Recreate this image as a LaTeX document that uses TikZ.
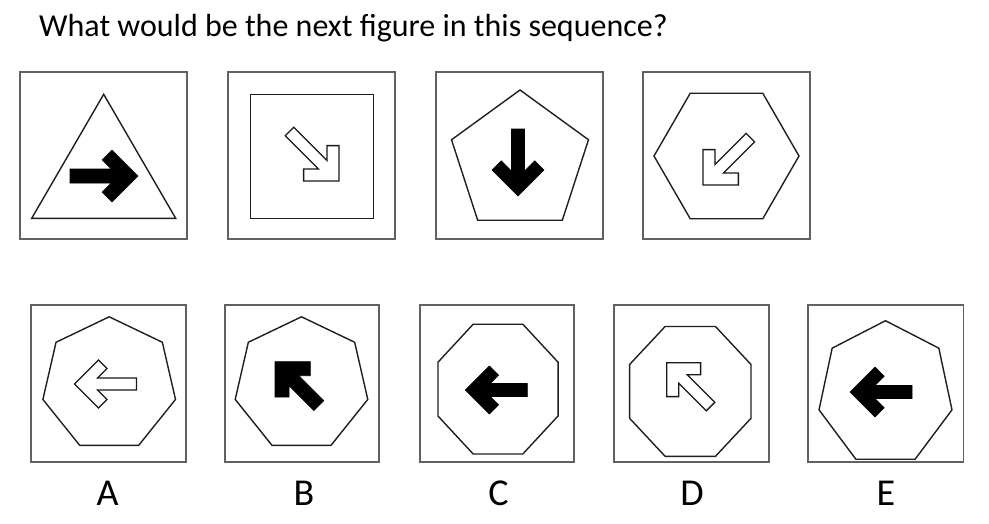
\documentclass[tikz,border=0pt]{standalone}
\usepackage{fontspec}
\setmainfont{Carlito}
% chevron arrow: #1 style, #2 tip, #3 angle, #4 length, #5 thickness, #6 arm reach
\newcommand\qarrow[6]{%
  \path[#1, shift={(#2)}, rotate=#3]
    (0,0) -- (-#6,#6) -- ({-#6-0.7071*#5},{#6-0.7071*#5})
    -- ({-1.4142*#5-0.5*#5},{0.5*#5}) -- (-#4,{0.5*#5}) -- (-#4,{-0.5*#5})
    -- ({-1.4142*#5-0.5*#5},{-0.5*#5}) -- ({-#6-0.7071*#5},{-#6+0.7071*#5})
    -- (-#6,-#6) -- cycle;}
% polygon: #1 cx, #2 cy, #3 Rx, #4 Ry, #5 n, #6 start angle
\newcommand\qpoly[6]{%
  \pgfmathtruncatemacro\qnm{#5-1}%
  \draw[figline] ({#1+#3*cos(#6)},{#2+#4*sin(#6)})
    \foreach \k in {1,...,\qnm}{ -- ({#1+#3*cos(#6+\k*360/#5)},{#2+#4*sin(#6+\k*360/#5)}) } -- cycle;}
\begin{document}
\begin{tikzpicture}[x=1pt,y=-1pt,
  frame/.style={draw=black!62, line width=1.8pt},
  figline/.style={draw=black!88, line width=1.4pt, line join=miter},
  solidarrow/.style={fill=black, draw=black, line width=0.6pt, line join=miter},
  hollowarrow/.style={fill=white, draw=black!90, line width=1.3pt, line join=miter},
  lab/.style={font=\fontsize{38}{40}\selectfont, anchor=base, inner sep=0pt}]
\useasboundingbox (0,0) rectangle (989,523);
\fill[white] (0,0) rectangle (989,523);

\node[anchor=base west, font=\fontsize{32}{38}\selectfont, inner sep=0pt] (title) at (39,36)
  {What would be the next figure in this sequence?};

% top row frames
\draw[frame] (20,72) rectangle (187,239);
\draw[frame] (228,72) rectangle (395,239);
\draw[frame] (436,72) rectangle (603,239);
\draw[frame] (643,72) rectangle (810,239);

% top row shapes
\draw[figline] (103.7,94.3) -- (31.7,218.3) -- (175.7,218.3) -- cycle;
\draw[figline] (250.3,94.3) rectangle (373.3,218.3);
\qpoly{520}{162}{72}{72}{5}{-90}
\qpoly{726.5}{156}{72.5}{72.5}{6}{0}

% top row arrows
\qarrow{solidarrow}{138,176}{0}{68}{14}{26}
\qarrow{hollowarrow}{339,181}{-45}{70}{12}{25}
\qarrow{solidarrow}{518,196}{-90}{67}{13}{26}
\qarrow{hollowarrow}{703,185}{-135}{67}{12}{25}

% bottom row frames
\draw[frame] (31,305) rectangle (186,462);
\draw[frame] (225,305) rectangle (379,462);
\draw[frame] (420,305) rectangle (574,462);
\draw[frame] (614,305) rectangle (769,462);
\draw[frame] (808,305) rectangle (963.5,462);

% bottom row shapes
\qpoly{109.2}{384.4}{68}{67.6}{7}{-90}
\qpoly{301.5}{384.4}{68}{67.6}{7}{-90}
\qpoly{498}{389.1}{65}{70.2}{8}{22.5}
\qpoly{690.3}{391.4}{65.7}{70.3}{8}{22.5}
\qpoly{885.5}{393.6}{68.2}{72.9}{7}{-90}

% bottom row arrows
\qarrow{hollowarrow}{74.5,384}{180}{62}{12}{24}
\qarrow{solidarrow}{275,361.7}{135}{62}{14}{25}
\qarrow{solidarrow}{465.4,390}{180}{62}{13}{24}
\qarrow{hollowarrow}{666.7,362.7}{135}{62}{12}{24}
\qarrow{solidarrow}{850,392}{180}{62}{13}{25}

% labels
\node[lab] (labA) at (107.7,505) {A};
\node[lab] (labB) at (304,505) {B};
\node[lab] (labC) at (498.5,505) {C};
\node[lab] (labD) at (692,505) {D};
\node[lab] (labE) at (886,505) {E};
\end{tikzpicture}
\end{document}
